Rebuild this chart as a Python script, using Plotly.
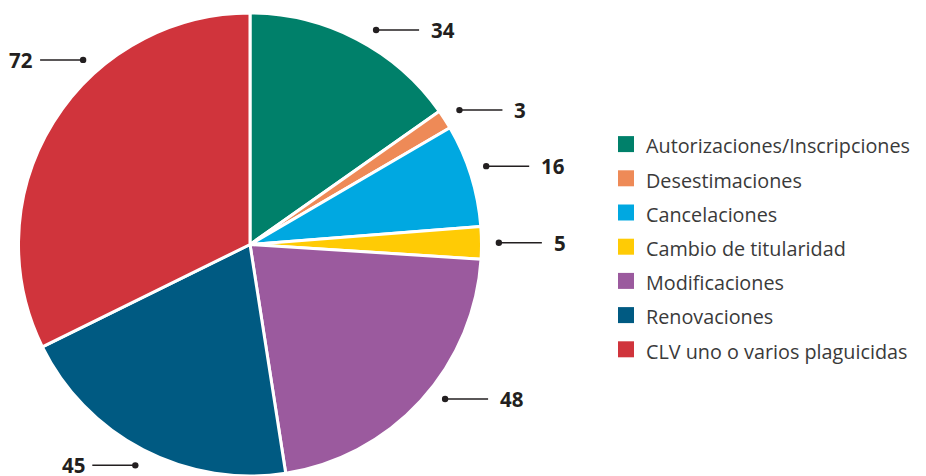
import math
import plotly.graph_objects as go

categories = [
    "Autorizaciones/Inscripciones",
    "Desestimaciones",
    "Cancelaciones",
    "Cambio de titularidad",
    "Modificaciones",
    "Renovaciones",
    "CLV uno o varios plaguicidas",
]
values = [34, 3, 16, 5, 48, 45, 72]
colors = ["#00806A", "#EE8A57", "#00A8E1", "#FFCB05", "#9B5A9E", "#005A82", "#D0343C"]
# small angular nudges (degrees) for the callout labels, style only
label_shift = [3, 0, -1, 0, -4, 0, 16]

OFF = 8  # page body margin
W, H = 926 - OFF, 476 - OFF


def pg(x, y):
    """page pixel -> paper coords"""
    return (x - OFF) / W, 1 - (y - OFF) / H


dom_x = [pg(18, 0)[0], pg(482, 0)[0]]
dom_y = [max(0.0, pg(0, 477)[1]), pg(0, 13)[1]]

cx = (dom_x[0] + dom_x[1]) / 2 * W
cy = H - (dom_y[0] + dom_y[1]) / 2 * H
R = min((dom_x[1] - dom_x[0]) * W, (dom_y[1] - dom_y[0]) * H) / 2

fig = go.Figure()
fig.add_trace(go.Pie(
    labels=categories,
    values=values,
    sort=False,
    direction="clockwise",
    rotation=0,
    marker=dict(colors=colors, line=dict(color="white", width=3)),
    textinfo="none",
    hoverinfo="label+value",
    domain=dict(x=dom_x, y=dom_y),
    showlegend=False,
))

# legend entries (square swatches)
for c, col in zip(categories, colors):
    fig.add_trace(go.Scatter(
        x=[None], y=[None], mode="markers",
        marker=dict(symbol="square", size=16, color=col),
        name=f'<span style="font-size:19.8px">{c}</span>',
        showlegend=True, hoverinfo="skip",
    ))


def fp(x, y):
    """figure pixel -> paper coords"""
    return x / W, 1 - y / H


shapes = []
annotations = []
total = sum(values)
cum = 0
rd = R * 1.075
line_len = 43
for v, s in zip(values, label_shift):
    ang = math.radians((cum + v / 2) / total * 360 + s)
    cum += v
    dx, dy = cx + rd * math.sin(ang), cy - rd * math.cos(ang)
    right = math.sin(ang) > 0
    ex = dx + line_len if right else dx - line_len
    p0 = fp(dx, dy)
    p1 = fp(ex, dy)
    shapes.append(dict(type="line", xref="paper", yref="paper",
                       x0=p0[0], y0=p0[1], x1=p1[0], y1=p1[1],
                       line=dict(color="#231F20", width=1.5)))
    rr = 3.2
    shapes.append(dict(type="circle", xref="paper", yref="paper",
                       x0=(dx - rr) / W, x1=(dx + rr) / W,
                       y0=1 - (dy + rr) / H, y1=1 - (dy - rr) / H,
                       fillcolor="#231F20", line=dict(width=0)))
    tx = ex + 10 if right else ex - 5
    annotations.append(dict(
        x=tx / W, y=1 - dy / H, xref="paper", yref="paper",
        text=f"<b>{v}</b>", showarrow=False,
        xanchor="left" if right else "right", yanchor="middle",
        font=dict(family="Open Sans", size=20.5, color="#231F20"),
    ))

lx, ly = pg(606, 122)
fig.update_layout(
    width=W, height=H,
    margin=dict(l=0, r=0, t=0, b=0),
    paper_bgcolor="white",
    plot_bgcolor="white",
    xaxis=dict(visible=False),
    yaxis=dict(visible=False),
    shapes=shapes,
    annotations=annotations,
    legend=dict(
        x=lx, y=ly, xanchor="left", yanchor="top",
        font=dict(family="Open Sans", size=24, color="#3a3a3a"),
        bgcolor="rgba(0,0,0,0)",
        traceorder="normal",
        itemsizing="trace",
    ),
)

fig.write_html("out.html")
